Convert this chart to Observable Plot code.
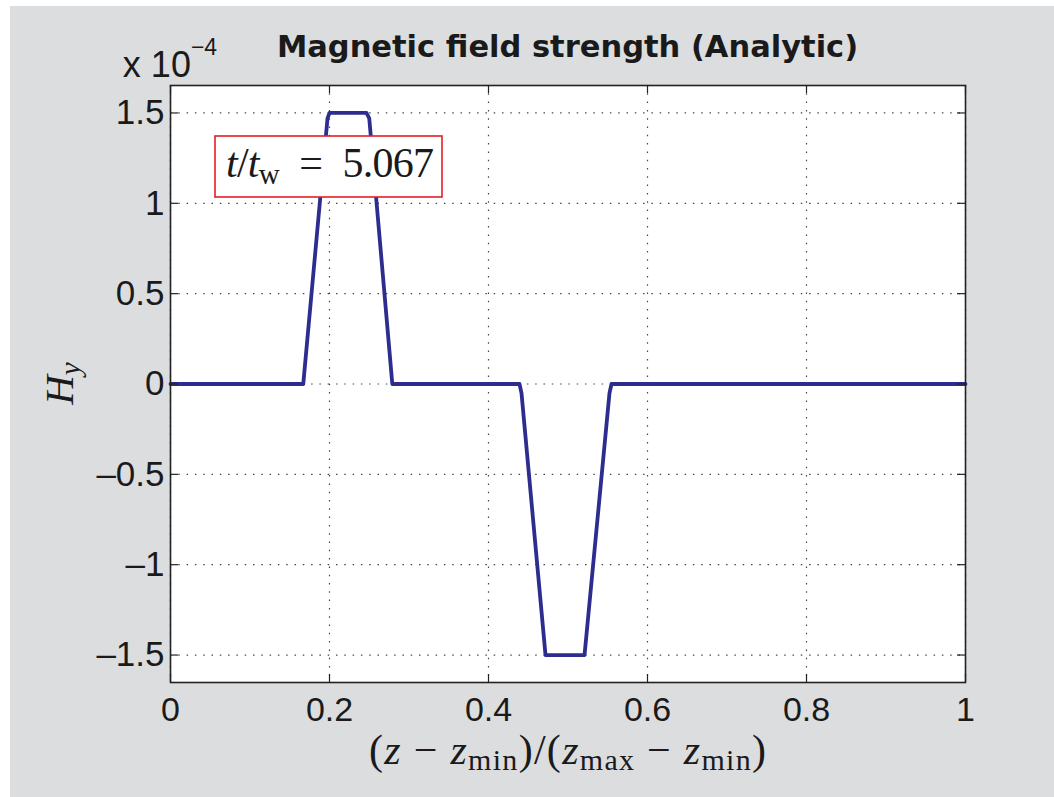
<!DOCTYPE html>
<html><head><meta charset="utf-8">
<script src="https://cdn.jsdelivr.net/npm/d3@7"></script>
<script src="https://cdn.jsdelivr.net/npm/@observablehq/plot@0.6"></script>
<style>
html,body{margin:0;padding:0;background:#fff;}
#bg{position:absolute;left:10px;top:6px;width:1044px;height:791px;background:#dcdddf;}
#chart{position:absolute;left:0;top:0;}
</style></head><body>
<div id="bg"></div><div id="chart"></div>
<script>
// ---- data ----
const z  = [0, 0.167, 0.1975, 0.200, 0.2465, 0.250, 0.279, 0.439, 0.4415, 0.4717, 0.5208, 0.5522, 0.5547, 1];
const Hy = [0, 0,     1.47,   1.5,   1.5,    1.47,  0,     0,     -0.05,  -1.5,   -1.5,   -0.05,  0,      0];
const xTicks = [0, 0.2, 0.4, 0.6, 0.8, 1];
const xTickLabels = ["0", "0.2", "0.4", "0.6", "0.8", "1"];
const yTicks = [-1.5, -1, -0.5, 0, 0.5, 1, 1.5];
const yTickLabels = ["\u20131.5", "\u20131", "\u20130.5", "0", "0.5", "1", "1.5"];
const titleText = "Magnetic field strength (Analytic)";
const exponentText = "\u22124";
const timeValue = "5.067";

const data = z.map((v, i) => ({z: v, Hy: Hy[i]}));

const W = 1054, H = 797;
const mL = 170, mR = 89, mT = 85, mB = 115;
const plotW = W - mL - mR, plotH = H - mT - mB;
const tickLen = 8;
const ink = "#1a1a1a";
const sans = "Liberation Sans";

const plot = Plot.plot({
  width: W, height: H,
  marginLeft: mL, marginRight: mR, marginTop: mT, marginBottom: mB,
  style: {background: "transparent", color: ink},
  x: {domain: [0, 1]},
  y: {domain: [-1.652, 1.652]},
  marks: [
    Plot.frame({fill: "white", stroke: null}),
    Plot.gridX({ticks: xTicks, stroke: "#333", strokeOpacity: 0.9, strokeWidth: 1.2, strokeDasharray: "1.5,6.8"}),
    Plot.gridY({ticks: yTicks, stroke: "#333", strokeOpacity: 0.9, strokeWidth: 1.2, strokeDasharray: "1.5,6.8"}),
    Plot.line(data, {x: "z", y: "Hy", stroke: "#2c2d8e", strokeWidth: 3.8, strokeLinejoin: "round"}),
    Plot.tickX(xTicks, {x: d => d, stroke: "#222", strokeWidth: 1.2, insetTop: plotH - tickLen}),
    Plot.tickX(xTicks, {x: d => d, stroke: "#222", strokeWidth: 1.2, insetBottom: plotH - tickLen}),
    Plot.tickY(yTicks, {y: d => d, stroke: "#222", strokeWidth: 1.2, insetRight: plotW - tickLen}),
    Plot.tickY(yTicks, {y: d => d, stroke: "#222", strokeWidth: 1.2, insetLeft: plotW - tickLen}),
    Plot.frame({stroke: "#222", strokeWidth: 1.6}),
    Plot.axisX({ticks: xTicks, tickSize: 0, tickPadding: 14, fontSize: 34, fontFamily: sans,
      tickFormat: d => xTickLabels[xTicks.indexOf(d)], label: null}),
    Plot.axisY({ticks: yTicks, tickSize: 0, tickPadding: 6, fontSize: 35, fontFamily: sans,
      tickFormat: d => yTickLabels[yTicks.indexOf(d)], label: null})
  ]
});
document.getElementById("chart").appendChild(plot);

const svg = d3.select(plot);
const cx = mL + plotW / 2;

// title
svg.append("text").attr("x", cx).attr("y", 57).attr("text-anchor", "middle")
  .attr("font-family", "DejaVu Sans").attr("font-weight", "bold").attr("font-size", 30.5)
  .attr("fill", ink).text(titleText);

// exponent
const ex = svg.append("text").attr("x", mL).attr("y", 77)
  .attr("font-family", sans).attr("font-size", 36).attr("fill", ink);
ex.append("tspan").text("x 10");
ex.append("tspan").attr("font-size", 23).attr("dy", -22).text(exponentText);

// y label H_y
const yl = svg.append("text").attr("transform", `translate(73,${mT + plotH / 2}) rotate(-90)`)
  .attr("text-anchor", "middle").attr("font-family", "Liberation Serif").attr("font-size", 41)
  .attr("font-style", "italic").attr("fill", ink);
yl.append("tspan").text("H");
yl.append("tspan").attr("font-size", 29).attr("dy", 7).text("y");

// x label
const xl = svg.append("text").attr("x", cx).attr("y", 764).attr("text-anchor", "middle")
  .attr("font-family", "Liberation Serif").attr("font-size", 42).attr("fill", ink)
  .attr("textLength", 397).attr("lengthAdjust", "spacing");
const parts = [
  ["(", null], ["z", "i"], ["\u2005\u2212\u2005", null], ["z", "i"], ["min", "s"], [")/(", null],
  ["z", "i"], ["max", "s"], ["\u2005\u2212\u2005", null], ["z", "i"], ["min", "s"], [")", null]
];
let sub = false;
for (const [t, k] of parts) {
  const ts = xl.append("tspan").text(t);
  if (k === "i") ts.attr("font-style", "italic");
  if (k === "s") { ts.attr("font-size", 30); if (!sub) ts.attr("dy", 6); sub = true; }
  else if (sub) { ts.attr("dy", -6); sub = false; }
}

// annotation box
const g = svg.append("g");
g.append("rect").attr("x", 215).attr("y", 136).attr("width", 227).attr("height", 61)
  .attr("fill", "white").attr("stroke", "#e41f26").attr("stroke-width", 1.6);
const at = g.append("text").attr("x", 330).attr("y", 177).attr("text-anchor", "middle")
  .attr("font-family", "Liberation Serif").attr("font-size", 42).attr("fill", ink)
  .attr("textLength", 208).attr("lengthAdjust", "spacing");
at.append("tspan").attr("font-style", "italic").text("t");
at.append("tspan").text("/");
at.append("tspan").attr("font-style", "italic").text("t");
at.append("tspan").attr("font-size", 29).attr("dy", 7).text("w");
at.append("tspan").attr("dy", -7).text("\u2002=\u2002" + timeValue);
</script>
</body></html>
